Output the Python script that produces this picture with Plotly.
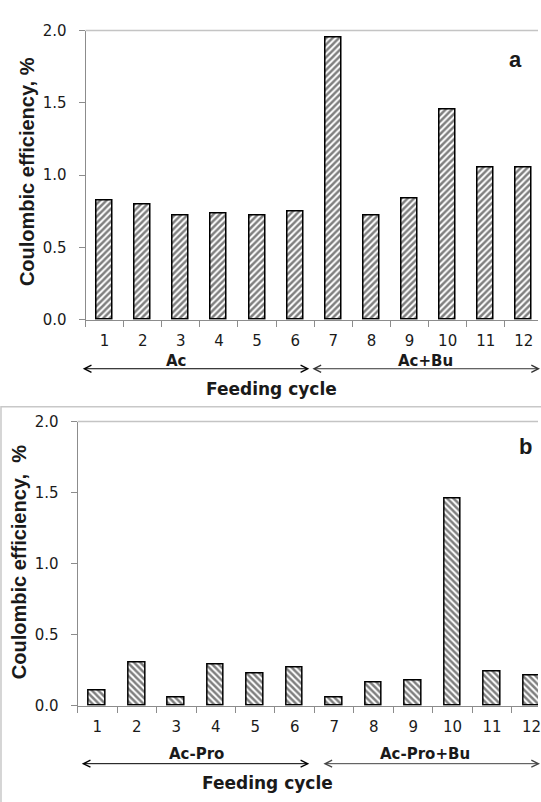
import plotly.graph_objects as go

cycles = list(range(1, 13))
tick_labels = [str(c) for c in cycles]
ce_a = [0.826, 0.797, 0.723, 0.736, 0.723, 0.752, 1.953, 0.723, 0.842, 1.457, 1.052, 1.052]
ce_b = [0.106, 0.301, 0.060, 0.287, 0.225, 0.271, 0.060, 0.163, 0.179, 1.457, 0.241, 0.209]
groups_a = ["Ac", "Ac+Bu"]
groups_b = ["Ac-Pro", "Ac-Pro+Bu"]
panel_labels = ["a", "b"]
y_title = "Coulombic efficiency, %"
x_title = "Feeding cycle"

W, H = 541, 802
def px(x):
    return x / W
def py(y):
    return 1 - y / H

AXC = "#8c8c8c"
TXT = "#1a1a1a"
TICKFONT = dict(family="DejaVu Sans", size=15, color=TXT)
BOLD = "DejaVu Sans"

fig = go.Figure()
fig.add_trace(go.Bar(
    x=cycles, y=ce_a, width=0.42, xaxis="x", yaxis="y",
    marker=dict(color="white", line=dict(color="black", width=1.5),
                pattern=dict(shape="/", fgcolor="black", bgcolor="white", size=4.5, solidity=0.55)),
    showlegend=False, hoverinfo="x+y"))
fig.add_trace(go.Bar(
    x=cycles, y=ce_b, width=0.42, xaxis="x2", yaxis="y2",
    marker=dict(color="white", line=dict(color="black", width=1.5),
                pattern=dict(shape="\\", fgcolor="black", bgcolor="white", size=4.5, solidity=0.55)),
    showlegend=False, hoverinfo="x+y"))

def xax(domain, rng, anchor):
    return dict(domain=domain, range=rng, anchor=anchor, showgrid=False, zeroline=False,
                tickmode="array", tickvals=cycles, ticktext=tick_labels, ticks="",
                showline=True, linecolor=AXC, linewidth=1, tickfont=TICKFONT,
                ticklabelstandoff=7, ticklabeloverflow="allow",
                minor=dict(ticks="outside", tick0=0.5, dtick=1, ticklen=6, tickcolor=AXC, tickwidth=1, showgrid=False))

def yax(domain, anchor):
    return dict(domain=domain, range=[0, 2.0], anchor=anchor, showgrid=False, zeroline=False,
                tickmode="array", tickvals=[0, 0.5, 1.0, 1.5, 2.0], ticktext=["0.0", "0.5", "1.0", "1.5", "2.0"],
                ticks="outside", ticklen=6, tickcolor=AXC, tickwidth=1, ticklabelstandoff=9,
                showline=True, linecolor=AXC, linewidth=1, tickfont=TICKFONT)

ra = [0.5, 0.5 + (W - 86) / 38.33]
rb = [0.5, 0.5 + (W - 78) / 39.7]
fig.update_layout(
    width=W, height=H, margin=dict(l=0, r=0, t=0, b=0),
    paper_bgcolor="white", plot_bgcolor="white", bargap=0,
    xaxis=xax([px(86), 1.0], ra, "y"),
    yaxis=yax([py(318), py(22)], "x"),
    xaxis2=xax([px(78), 1.0], rb, "y2"),
    yaxis2=yax([py(712.7), py(422)], "x2"),
)

shapes = []
shapes.append(dict(type="line", xref="x domain", yref="y domain", x0=0, x1=1, y0=1, y1=1,
                   line=dict(color="#c4c4c4", width=1.5)))
shapes.append(dict(type="line", xref="x2 domain", yref="y2 domain", x0=0, x1=1, y0=1, y1=1,
                   line=dict(color="#c4c4c4", width=1.5)))
shapes.append(dict(type="rect", xref="paper", yref="paper", x0=px(1), x1=1.02, y0=-0.02, y1=py(407),
                   line=dict(color="#c8c8c8", width=1.5)))
fig.update_layout(shapes=shapes)

ann = []
def arrow(x0, x1, y, color):
    ann.append(dict(xref="paper", yref="paper", axref="pixel", ayref="pixel",
                    x=px(x1), y=py(y), ax=-(x1 - x0), ay=0, text="", showarrow=True,
                    arrowhead=5, startarrowhead=5, arrowside="end+start",
                    arrowsize=1.4, startarrowsize=1.4, arrowwidth=1, arrowcolor=color))
def label(text, x, y, size, font=BOLD, angle=0):
    ann.append(dict(xref="paper", yref="paper", x=px(x), y=py(y), text="<b>" + text + "</b>",
                    showarrow=False, textangle=angle, xanchor="center", yanchor="middle",
                    font=dict(family=font, size=size, color=TXT)))

# panel a
arrow(83, 311, 368, "black")
arrow(314, 548, 368, "#333333")
label(groups_a[0], 177, 360, 15)
label(groups_a[1], 428, 360, 15)
label(x_title, 273, 389, 17)
label(panel_labels[0], 518, 52, 22, font="Liberation Sans")
label(y_title, 27, 166, 20, font="Liberation Sans", angle=-90)
# panel b
arrow(82, 311, 772, "black")
arrow(325, 548, 772, "#444444")
label(groups_b[0], 198, 762, 15)
label(groups_b[1], 427, 762, 15)
label(x_title, 269, 792, 17)
label(panel_labels[1], 528, 448, 22, font="Liberation Sans")
label(y_title.replace(", ", ",  "), 19, 566, 20, font="Liberation Sans", angle=-90)
fig.update_layout(annotations=ann)

fig.write_html("out.html")
